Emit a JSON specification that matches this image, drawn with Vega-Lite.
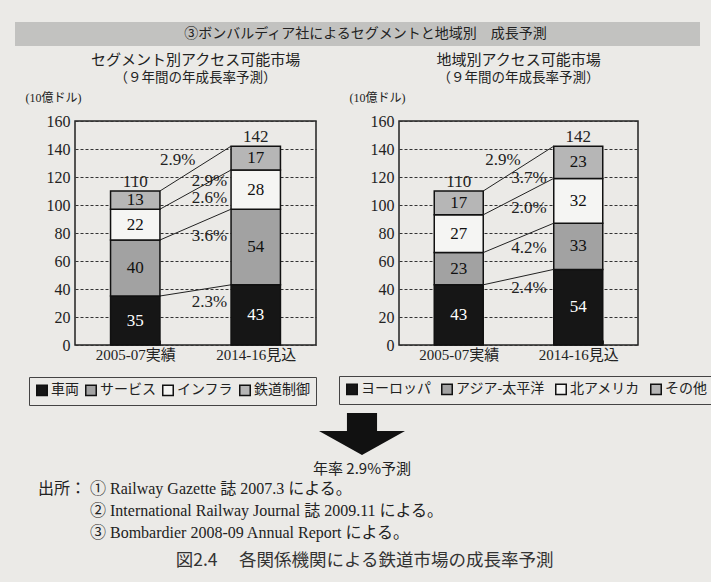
{
  "$schema": "https://vega.github.io/schema/vega-lite/v6.json",
  "background": "#ebeae7",
  "padding": {"left": 15, "top": 22, "right": 10, "bottom": 12},
  "config": {
    "font": "Noto Sans CJK JP",
    "view": {"stroke": "#222", "strokeWidth": 1.5},
    "title": {"fontWeight": "normal", "color": "#222"},
    "axisY": {
      "values": [0, 20, 40, 60, 80, 100, 120, 140, 160],
      "titleAngle": 0, "titleX": -50, "titleY": -24, "titleAlign": "left", "titleBaseline": "middle",
      "titleFont": "Liberation Serif, Noto Sans CJK JP", "titleFontSize": 12, "titleFontWeight": "normal", "titleColor": "#222",
      "labelFont": "Liberation Serif", "labelFontSize": 16, "labelColor": "#222", "labelPadding": 5,
      "ticks": false, "domain": false, "grid": true, "gridColor": "#333", "gridDash": [3, 2], "gridWidth": 1
    },
    "axisX": {
      "title": null, "labelAngle": 0, "labelFont": "Liberation Serif, Noto Sans CJK JP", "labelFontSize": 15,
      "labelColor": "#222", "labelPadding": 7, "domain": false, "ticks": true, "tickBand": "extent",
      "tickSize": -5, "tickColor": "#333", "grid": false
    },
    "legend": {
      "title": null, "orient": "none", "direction": "horizontal", "symbolType": "square", "symbolSize": 110,
      "symbolStrokeColor": "#111", "symbolStrokeWidth": 1.5, "symbolOpacity": 1, "labelFontSize": 14, "labelFont": "Noto Sans CJK JP",
      "labelColor": "#222", "labelOffset": 2, "padding": 6, "strokeColor": "#444", "gridAlign": "each"
    }
  },
  "datasets": {
    "seg": [
      {"period": "2005-07実績", "cat": "車両", "value": 35, "order": 1},
      {"period": "2005-07実績", "cat": "サービス", "value": 40, "order": 2},
      {"period": "2005-07実績", "cat": "インフラ", "value": 22, "order": 3},
      {"period": "2005-07実績", "cat": "鉄道制御", "value": 13, "order": 4},
      {"period": "2014-16見込", "cat": "車両", "value": 43, "order": 1},
      {"period": "2014-16見込", "cat": "サービス", "value": 54, "order": 2},
      {"period": "2014-16見込", "cat": "インフラ", "value": 28, "order": 3},
      {"period": "2014-16見込", "cat": "鉄道制御", "value": 17, "order": 4}
    ],
    "reg": [
      {"period": "2005-07実績", "cat": "ヨーロッパ", "value": 43, "order": 1},
      {"period": "2005-07実績", "cat": "アジア-太平洋", "value": 23, "order": 2},
      {"period": "2005-07実績", "cat": "北アメリカ", "value": 27, "order": 3},
      {"period": "2005-07実績", "cat": "その他", "value": 17, "order": 4},
      {"period": "2014-16見込", "cat": "ヨーロッパ", "value": 54, "order": 1},
      {"period": "2014-16見込", "cat": "アジア-太平洋", "value": 33, "order": 2},
      {"period": "2014-16見込", "cat": "北アメリカ", "value": 32, "order": 3},
      {"period": "2014-16見込", "cat": "その他", "value": 23, "order": 4}
    ],
    "segLines": [
      {"from": "2005-07実績", "to": "2014-16見込", "y1": 110, "y2": 142},
      {"from": "2005-07実績", "to": "2014-16見込", "y1": 97, "y2": 125},
      {"from": "2005-07実績", "to": "2014-16見込", "y1": 75, "y2": 97},
      {"from": "2005-07実績", "to": "2014-16見込", "y1": 35, "y2": 43}
    ],
    "regLines": [
      {"from": "2005-07実績", "to": "2014-16見込", "y1": 110, "y2": 142},
      {"from": "2005-07実績", "to": "2014-16見込", "y1": 93, "y2": 119},
      {"from": "2005-07実績", "to": "2014-16見込", "y1": 66, "y2": 87},
      {"from": "2005-07実績", "to": "2014-16見込", "y1": 43, "y2": 54}
    ],
    "segPct": [
      {"kind": "total", "at": "2005-07実績", "y": 132, "label": "2.9%"},
      {"kind": "seg", "at": "2014-16見込", "y": 117, "label": "2.9%"},
      {"kind": "seg", "at": "2014-16見込", "y": 105, "label": "2.6%"},
      {"kind": "seg", "at": "2014-16見込", "y": 78, "label": "3.6%"},
      {"kind": "seg", "at": "2014-16見込", "y": 31, "label": "2.3%"}
    ],
    "regPct": [
      {"kind": "total", "at": "2005-07実績", "y": 132, "label": "2.9%"},
      {"kind": "seg", "at": "2014-16見込", "y": 119, "label": "3.7%"},
      {"kind": "seg", "at": "2014-16見込", "y": 98, "label": "2.0%"},
      {"kind": "seg", "at": "2014-16見込", "y": 69, "label": "4.2%"},
      {"kind": "seg", "at": "2014-16見込", "y": 41, "label": "2.4%"}
    ],
    "totals": [
      {"period": "2005-07実績", "total": 110},
      {"period": "2014-16見込", "total": 142}
    ]
  },
  "title": {"text": "図2.4　 各関係機関による鉄道市場の成長率予測", "orient": "bottom", "anchor": "middle", "frame": "bounds", "fontSize": 17.5, "color": "#333", "offset": 11},
  "spacing": 5,
  "vconcat": [
    {
      "width": 685, "height": 24,
      "view": {"fill": "#c2c2c0", "stroke": null},
      "data": {"values": [{"t": "③ボンバルディア社によるセグメントと地域別　成長予測"}]},
      "mark": {"type": "text", "fontSize": 14, "color": "#222", "dx": 8},
      "encoding": {"text": {"field": "t"}}
    },
    {
      "spacing": 0,
      "hconcat": [
        {
          "width": 9, "height": 1,
          "view": {"stroke": null},
          "data": {"values": []},
          "mark": "point",
          "encoding": {}
        },
        {
          "bounds": "flush",
          "spacing": 83,
          "resolve": {"scale": {"color": "independent"}, "legend": {"color": "independent"}},
          "hconcat": [
            {
              "width": 241, "height": 224,
              "title": {"text": "セグメント別アクセス可能市場", "subtitle": "（９年間の年成長率予測）", "anchor": "middle", "frame": "group", "fontSize": 15, "subtitleFontSize": 13.5, "subtitleColor": "#222", "subtitlePadding": 3, "offset": 7},
              "layer": [
                {
                  "data": {"name": "seg"},
                  "mark": {"type": "bar", "stroke": "#111", "strokeWidth": 1.5},
                  "encoding": {
                    "x": {"field": "period", "type": "nominal", "sort": null, "scale": {"paddingInner": 0.59, "paddingOuter": 0.295}},
                    "y": {"field": "value", "type": "quantitative", "stack": "zero", "title": "(10億ドル)", "scale": {"domain": [0, 160], "nice": false}},
                    "color": {"field": "cat", "type": "nominal", "scale": {"domain": ["車両", "サービス", "インフラ", "鉄道制御"], "range": ["#161616", "#a2a2a2", "#f5f5f3", "#b6b6b6"]}, "legend": {"legendX": -46, "legendY": 256, "columnPadding": 3}},
                    "order": {"field": "order", "type": "quantitative"}
                  }
                },
                {
                  "data": {"name": "seg"},
                  "mark": {"type": "text", "font": "Liberation Serif", "fontSize": 17, "baseline": "middle"},
                  "encoding": {
                    "x": {"field": "period", "type": "nominal"},
                    "y": {"field": "value", "type": "quantitative", "stack": "zero", "bandPosition": 0.5, "title": "(10億ドル)"},
                    "detail": {"field": "cat"},
                    "order": {"field": "order", "type": "quantitative"},
                    "text": {"field": "value"},
                    "color": {"condition": {"test": "datum.order === 1", "value": "#ffffff"}, "value": "#111"}
                  }
                },
                {
                  "data": {"name": "segLines"},
                  "mark": {"type": "rule", "color": "#222", "strokeWidth": 1},
                  "encoding": {
                    "x": {"field": "from", "type": "nominal", "bandPosition": 1},
                    "x2": {"field": "to", "bandPosition": 0},
                    "y": {"field": "y1", "type": "quantitative", "title": "(10億ドル)"},
                    "y2": {"field": "y2"}
                  }
                },
                {
                  "data": {"name": "segPct"},
                  "transform": [{"filter": "datum.kind === 'seg'"}],
                  "mark": {"type": "text", "font": "Liberation Serif", "fontSize": 17, "align": "right", "baseline": "middle", "dx": -4, "color": "#222"},
                  "encoding": {
                    "x": {"field": "at", "type": "nominal", "bandPosition": 0},
                    "y": {"field": "y", "type": "quantitative", "title": "(10億ドル)"},
                    "text": {"field": "label"}
                  }
                },
                {
                  "data": {"name": "segPct"},
                  "transform": [{"filter": "datum.kind === 'total'"}],
                  "mark": {"type": "text", "font": "Liberation Serif", "fontSize": 17, "align": "left", "baseline": "middle", "dx": 0, "color": "#222"},
                  "encoding": {
                    "x": {"field": "at", "type": "nominal", "bandPosition": 1},
                    "y": {"field": "y", "type": "quantitative", "title": "(10億ドル)"},
                    "text": {"field": "label"}
                  }
                },
                {
                  "data": {"name": "totals"},
                  "mark": {"type": "text", "font": "Liberation Serif", "fontSize": 17, "baseline": "bottom", "dy": 0, "color": "#222"},
                  "encoding": {
                    "x": {"field": "period", "type": "nominal"},
                    "y": {"field": "total", "type": "quantitative", "title": "(10億ドル)"},
                    "text": {"field": "total"}
                  }
                }
              ]
            },
            {
              "width": 239, "height": 224,
              "title": {"text": "地域別アクセス可能市場", "subtitle": "（９年間の年成長率予測）", "anchor": "middle", "frame": "group", "fontSize": 15, "subtitleFontSize": 13.5, "subtitleColor": "#222", "subtitlePadding": 3, "offset": 7},
              "layer": [
                {
                  "data": {"name": "reg"},
                  "mark": {"type": "bar", "stroke": "#111", "strokeWidth": 1.5},
                  "encoding": {
                    "x": {"field": "period", "type": "nominal", "sort": null, "scale": {"paddingInner": 0.59, "paddingOuter": 0.295}},
                    "y": {"field": "value", "type": "quantitative", "stack": "zero", "title": "(10億ドル)", "scale": {"domain": [0, 160], "nice": false}},
                    "color": {"field": "cat", "type": "nominal", "scale": {"domain": ["ヨーロッパ", "アジア-太平洋", "北アメリカ", "その他"], "range": ["#161616", "#a2a2a2", "#f5f5f3", "#b6b6b6"]}, "legend": {"legendX": -60, "legendY": 255, "columnPadding": 7}},
                    "order": {"field": "order", "type": "quantitative"}
                  }
                },
                {
                  "data": {"name": "reg"},
                  "mark": {"type": "text", "font": "Liberation Serif", "fontSize": 17, "baseline": "middle"},
                  "encoding": {
                    "x": {"field": "period", "type": "nominal"},
                    "y": {"field": "value", "type": "quantitative", "stack": "zero", "bandPosition": 0.5, "title": "(10億ドル)"},
                    "detail": {"field": "cat"},
                    "order": {"field": "order", "type": "quantitative"},
                    "text": {"field": "value"},
                    "color": {"condition": {"test": "datum.order === 1", "value": "#ffffff"}, "value": "#111"}
                  }
                },
                {
                  "data": {"name": "regLines"},
                  "mark": {"type": "rule", "color": "#222", "strokeWidth": 1},
                  "encoding": {
                    "x": {"field": "from", "type": "nominal", "bandPosition": 1},
                    "x2": {"field": "to", "bandPosition": 0},
                    "y": {"field": "y1", "type": "quantitative", "title": "(10億ドル)"},
                    "y2": {"field": "y2"}
                  }
                },
                {
                  "data": {"name": "regPct"},
                  "transform": [{"filter": "datum.kind === 'seg'"}],
                  "mark": {"type": "text", "font": "Liberation Serif", "fontSize": 17, "align": "right", "baseline": "middle", "dx": -7, "color": "#222"},
                  "encoding": {
                    "x": {"field": "at", "type": "nominal", "bandPosition": 0},
                    "y": {"field": "y", "type": "quantitative", "title": "(10億ドル)"},
                    "text": {"field": "label"}
                  }
                },
                {
                  "data": {"name": "regPct"},
                  "transform": [{"filter": "datum.kind === 'total'"}],
                  "mark": {"type": "text", "font": "Liberation Serif", "fontSize": 17, "align": "left", "baseline": "middle", "dx": 2, "color": "#222"},
                  "encoding": {
                    "x": {"field": "at", "type": "nominal", "bandPosition": 1},
                    "y": {"field": "y", "type": "quantitative", "title": "(10億ドル)"},
                    "text": {"field": "label"}
                  }
                },
                {
                  "data": {"name": "totals"},
                  "mark": {"type": "text", "font": "Liberation Serif", "fontSize": 17, "baseline": "bottom", "dy": 0, "color": "#222"},
                  "encoding": {
                    "x": {"field": "period", "type": "nominal"},
                    "y": {"field": "total", "type": "quantitative", "title": "(10億ドル)"},
                    "text": {"field": "total"}
                  }
                }
              ]
            }
          ]
        }
      ]
    },
    {
      "width": 694, "height": 42,
      "view": {"stroke": null},
      "data": {"values": [{"t": "年率 2.9%予測"}]},
      "title": {
        "text": ["出所： ① Railway Gazette 誌 2007.3 による。", "\u200b　　　 ② International Railway Journal 誌 2009.11 による。", "\u200b　　　 ③ Bombardier 2008-09 Annual Report による。"],
        "orient": "bottom", "anchor": "start", "frame": "group", "offset": 4, "dx": 23, "fontSize": 16,
        "font": "Liberation Serif, Noto Sans CJK JP", "lineHeight": 22, "color": "#222", "baseline": "top"
      },
      "layer": [
        {
          "mark": {"type": "point", "shape": "M-0.35,-0.49L0.35,-0.49L0.35,-0.07L1,-0.07L0,0.49L-1,-0.07L-0.35,-0.07Z", "size": 7396, "filled": true, "color": "#111", "opacity": 1, "strokeWidth": 0},
          "encoding": {}
        },
        {
          "mark": {"type": "text", "fontSize": 15, "dy": 35, "color": "#222"},
          "encoding": {"text": {"field": "t"}}
        }
      ]
    }
  ]
}
